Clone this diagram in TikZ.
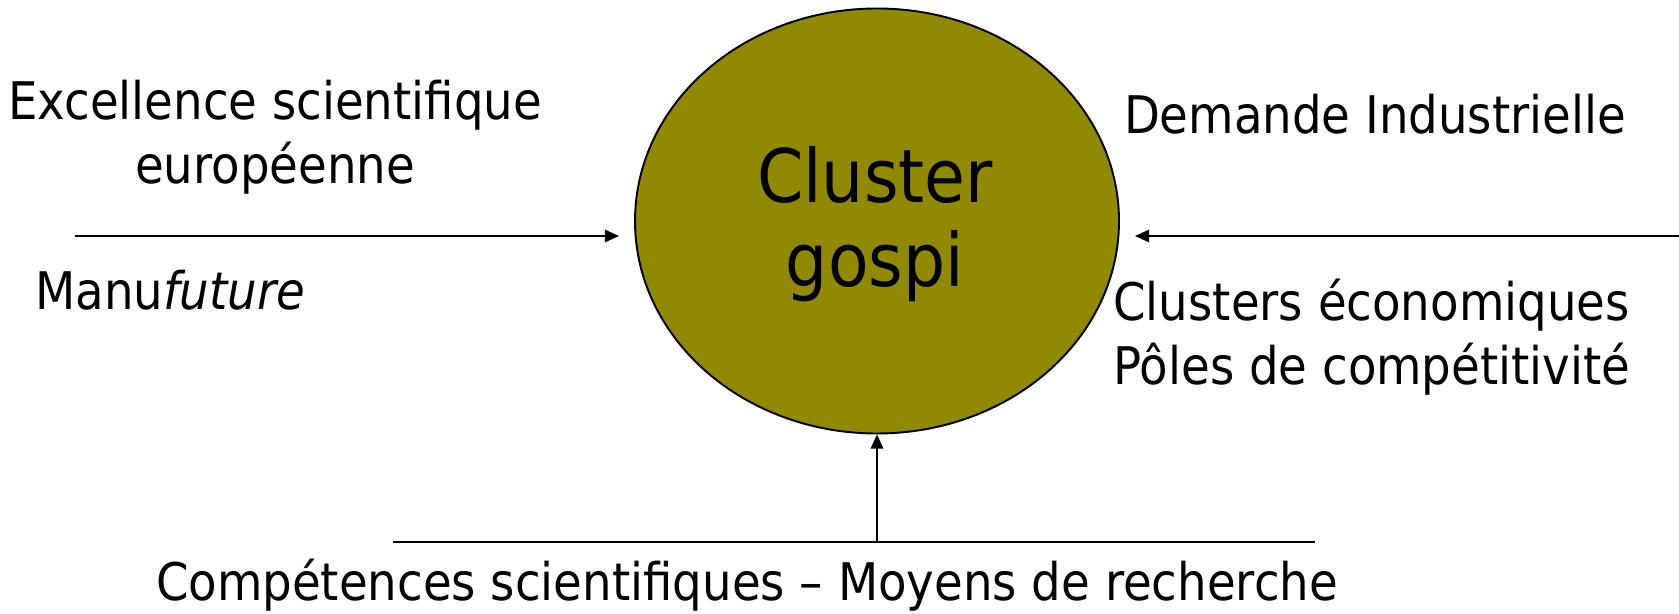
\documentclass[tikz,border=0pt]{standalone}
\usepackage{fontspec}
\setmainfont{DejaVu Sans}[FakeStretch=0.9]
\usetikzlibrary{shapes.geometric,arrows.meta}
\definecolor{gospiolive}{RGB}{145,138,0}
\tikzset{
	label/.style={font=\fontsize{29.5}{33}\selectfont, inner sep=0pt, anchor=base},
	big/.style={font=\fontsize{42}{46}\selectfont},
	flow/.style={line width=1.1pt, -{Triangle[length=8pt,width=7pt]}}
}
\begin{document}
\begin{tikzpicture}
	\useasboundingbox (0,0) rectangle (33.58,-12.28);
	%cluster
		\node[draw, ellipse, fill=gospiolive, line width=1.1pt, minimum width=9.68cm, minimum height=8.5cm, inner sep=0pt] (cluster) at (17.54,-4.42) {};
		\node[label, big] (clustertop) at (17.5,-4.06) {Cluster};
		\node[label, big] (clusterbot) at (17.5,-5.74) {gospi};
	%left input
		\node[label] (excellence) at (5.5,-2.4) {Excellence scientifique};
		\node[label] (europe) at (5.5,-3.68) {européenne};
		\node[label, anchor=base west] (manu) at (0.7,-6.2) {Manu\textit{future}};
		\coordinate (leftstart) at (1.5,-4.72);
		\coordinate (leftend) at (12.38,-4.72);
		\draw[flow] (leftstart) -- (leftend);
	%right input
		\node[label] (demande) at (27.5,-2.68) {Demande Industrielle};
		\node[label, anchor=base west] (eco) at (22.26,-6.42) {Clusters économiques};
		\node[label, anchor=base west] (poles) at (22.26,-7.7) {Pôles de compétitivité};
		\coordinate (rightstart) at (33.58,-4.72);
		\coordinate (rightend) at (22.7,-4.72);
		\draw[flow] (rightstart) -- (rightend);
	%bottom input
		\coordinate (baseleft) at (7.86,-10.84);
		\coordinate (baseright) at (26.3,-10.84);
		\coordinate (basemid) at (17.54,-10.84);
		\draw[line width=1.1pt] (baseleft) -- (baseright);
		\draw[flow] (basemid) -- (cluster.south);
		\node[label] (competences) at (14.94,-12.0) {Compétences scientifiques – Moyens de recherche};
\end{tikzpicture}
\end{document}
